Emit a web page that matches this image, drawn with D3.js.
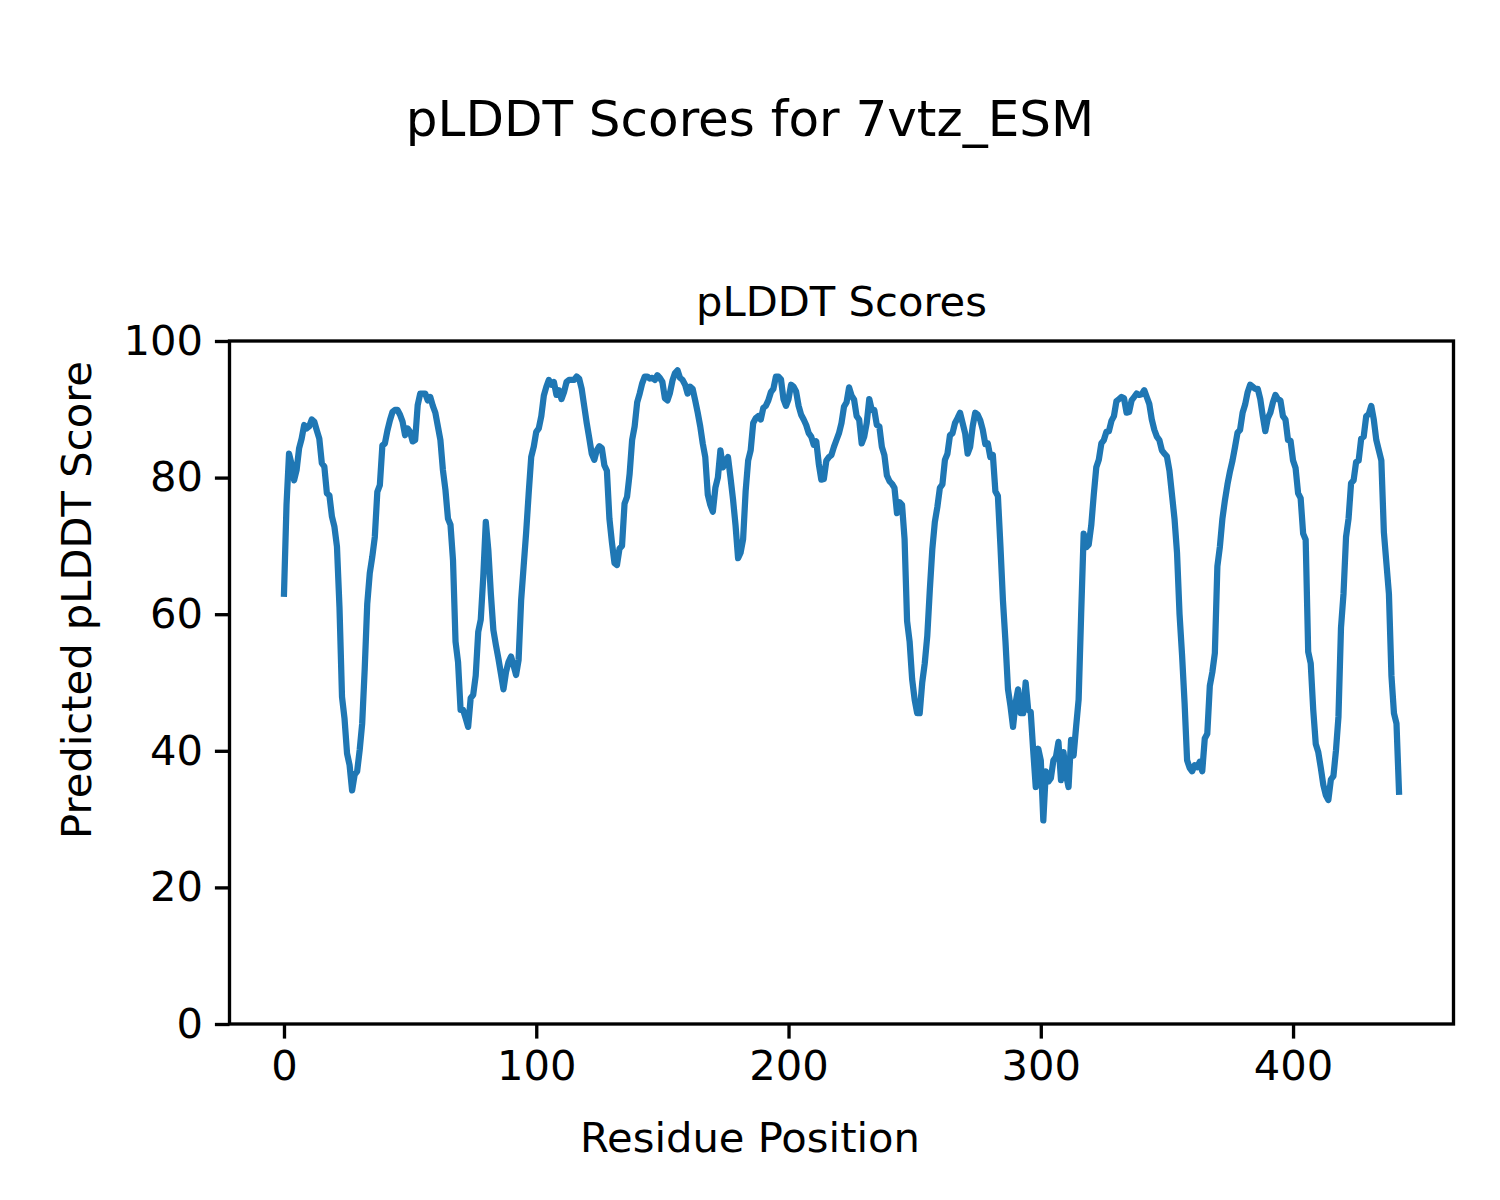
<!DOCTYPE html>
<html>
<head>
<meta charset="utf-8">
<script src="https://cdn.jsdelivr.net/npm/d3@7"></script>
<style>
html,body{margin:0;padding:0;background:#fff;}
text{font-family:"DejaVu Sans",sans-serif;fill:#000;}
</style>
</head>
<body>
<div id="chart"></div>
<script>
const figTitle = "pLDDT Scores for 7vtz_ESM";
const axTitle = "pLDDT Scores";
const xLabel = "Residue Position";
const yLabel = "Predicted pLDDT Score";
const xTicks = [0, 100, 200, 300, 400];
const yTicks = [0, 20, 40, 60, 80, 100];

// pLDDT per residue (positions 0..442)
const scores0 = [63,76,83.5,82,79.6,81.1,84.3,85.7,87.7,87.2,87.5,88.5,88.2,86.9,85.7,82.1,81.6,77.7,77.4,74.3,
72.8,69.9,61,47.9,44.7,39.6,37.9,34.2,36.5,37,40.1,44,52,61.5,66,68.4,71.3,77.9,78.9,84.7,
85,86.9,88.4,89.6,89.9,89.9,89.2,88.2,86.2,87.2,86.7,85.3,85.5,90.6,92.3,92.3,92.3,91.3,91.8,90.5];
const scores1 = [89.5,87.5,85.5,81.1,78.2,74,73.1,67.9,56,53,46,46,44.8,43.5,47.7,48.2,51,57.4,59.2,65.5,
73.5,69.4,63,57.7,55.5,53.5,51.3,49,51.5,53,53.8,52.5,51.1,53.3,62,67,72,77.7,83,84.5,
86.7,87.2,89,92,93.3,94.3,93.6,94,92.1,92.8,91.5,92.5,94,94.3,94.3,94.3,94.8,94.5,93,90.5];
const scores2 = [88,85.8,83.5,82.6,84,84.6,84.3,81.8,81,74,70.5,67.5,67.2,69.6,70,76.2,77.2,80.5,85.5,87.5,
91,92.3,93.8,94.8,94.8,94.5,94.6,94.3,95,94.6,94,91.6,91.3,92.4,94.2,95.3,95.7,94.6,94.3,93.6,
92.3,93.3,93,91.3,89.5,87.5,85,83,77.5,76,75,78.5,80,84,81.5,82.5,83,80,76.8,73];
const scores3 = [68.2,69,71,78,82.5,84,88,88.7,89,88.5,90.2,90.5,91.3,92.5,93,94.8,94.8,94.4,91.5,90.5,
91.5,93.6,93.3,92.6,90.5,89.2,88.5,87.7,86.5,86,84.8,85.3,82,79.7,79.8,82.5,83,83.3,84.5,85.5,
86.5,88,90.4,91,93.2,92,91.4,89,88.5,85,86,88,91.5,89.9,89.9,87.7,87.5,84.5,83.3,80.3];
const scores4 = [79.5,79.1,78.5,74.8,76.4,76,71,59,56,50.5,47.5,45.5,45.5,50,52.8,56.8,63.5,69.5,73.5,75.7,
78.5,79,82.6,83.5,86.2,86.5,88,88.7,89.5,88,86.5,83.5,84.5,87.5,89.5,89.2,88.4,87,84.9,85,
83,83.3,78,77.3,70,62,56,49,46.5,43.5,47,49,45.5,45.5,50,46,45.7,40,34.7,40.3];
const scores5 = [38.6,29.8,37,35.5,36,38.6,39.1,41.3,35.7,39.8,36.5,34.7,41.6,39.3,43.5,47.5,60,71.8,69.8,70.2,
73,77.5,81.5,82.6,85,85.5,86.7,86.8,88.3,89,91.2,91.5,91.8,91.6,89.5,89.6,91.3,91.8,92.3,92.1,
92.2,92.8,91.8,90.8,88.5,87,86,85.5,84,83.5,83.1,81,77.5,74,69,60,54,47,38.6,37.5];
const scores6 = [37,37.9,37.6,38.4,37,41.8,42.5,49.5,51.5,54.3,67,69.9,74,76.7,79,80.9,82.5,84.5,86.6,87,
89.5,90.7,92.5,93.6,93.3,93,93,91.5,89,86.8,88.7,89.5,91,92.1,91.5,91.3,89,88.5,85.5,85.4,
82.5,81.4,77.7,77,71.8,70.9,54.5,52.8,46,41,39.8,37.5,35,33.5,32.8,35.8,36.3,40,45,58];
const scores7 = [63,71.3,74,79.2,79.6,82.3,82.5,85.7,86,89,89.3,90.5,88.5,85.5,84,82.5,72,67.5,63,51,
45.5,44,34];

const scores = [].concat(scores0, scores1, scores2, scores3, scores4, scores5, scores6, scores7);
const positions = scores.map((d, i) => i);

const W = 1500, H = 1200;
const ax = {left: 229.5, right: 1453.5, top: 341, bottom: 1024};
const lineColor = "#1f77b4";

const svg = d3.select("#chart").append("svg")
  .attr("width", W).attr("height", H)
  .style("display", "block");

const x = d3.scaleLinear().domain([-21.6, 463.6]).range([ax.left, ax.right]);
const y = d3.scaleLinear().domain([0, 100]).range([ax.bottom, ax.top]);

svg.append("defs").append("clipPath").attr("id", "clip")
  .append("rect").attr("x", ax.left).attr("y", ax.top)
  .attr("width", ax.right - ax.left).attr("height", ax.bottom - ax.top);

// line
const line = d3.line().x((d, i) => x(positions[i])).y(d => y(d));
svg.append("path")
  .datum(scores)
  .attr("clip-path", "url(#clip)")
  .attr("d", line)
  .attr("fill", "none")
  .attr("stroke", lineColor)
  .attr("stroke-width", 6.25)
  .attr("stroke-linejoin", "round")
  .attr("stroke-linecap", "square");

// axes
const tickFont = "41.67px";
const xAxis = d3.axisBottom(x).tickValues(xTicks).tickSize(14.6).tickPadding(12);
const gx = svg.append("g").attr("transform", `translate(0,${ax.bottom})`).call(xAxis);
const yAxis = d3.axisLeft(y).tickValues(yTicks).tickSize(14.6).tickPadding(12);
const gy = svg.append("g").attr("transform", `translate(${ax.left},0)`).call(yAxis);
[gx, gy].forEach(g => {
  g.select(".domain").remove();
  g.selectAll(".tick line").attr("stroke", "#000").attr("stroke-width", 3.33);
  g.selectAll(".tick text").attr("font-family", "DejaVu Sans").attr("font-size", tickFont).attr("fill", "#000");
});

// spines
svg.append("rect")
  .attr("x", ax.left).attr("y", ax.top)
  .attr("width", ax.right - ax.left).attr("height", ax.bottom - ax.top)
  .attr("fill", "none").attr("stroke", "#000").attr("stroke-width", 3.33);

// titles
svg.append("text").attr("x", 750).attr("y", 136)
  .attr("text-anchor", "middle").attr("font-size", "50px").text(figTitle);
svg.append("text").attr("x", (ax.left + ax.right) / 2).attr("y", 316)
  .attr("text-anchor", "middle").attr("font-size", "41.67px").text(axTitle);
svg.append("text").attr("x", 750).attr("y", 1152)
  .attr("text-anchor", "middle").attr("font-size", "41.67px").text(xLabel);
svg.append("text").attr("transform", "translate(91,600) rotate(-90)")
  .attr("text-anchor", "middle").attr("font-size", "41.67px").text(yLabel);
</script>
</body>
</html>
